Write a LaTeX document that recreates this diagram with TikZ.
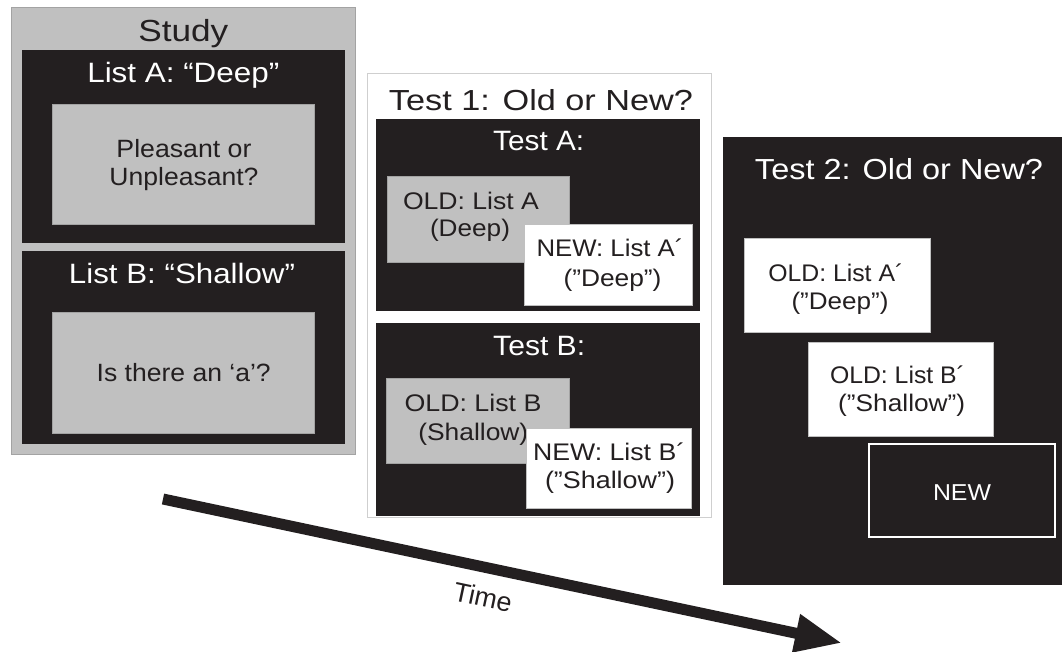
\documentclass[tikz,border=0pt]{standalone}
\usepackage{fontspec}
\usepackage{graphicx}
\setmainfont{Liberation Sans}
\usetikzlibrary{arrows.meta}

\definecolor{ink}{HTML}{231F20}
\definecolor{card}{HTML}{C0C0C0}
\definecolor{studyedge}{HTML}{A3A3A3}
\definecolor{paneledge}{HTML}{CFCFCF}

% stretch a line of text horizontally to a given width, keeping its height
\newcommand{\fitw}[2]{\resizebox{#1}{\height}{#2}}
\newcommand{\fs}[1]{\fontsize{#1}{#1}\selectfont}

\tikzset{
  box/.style={rectangle, inner sep=0pt, outer sep=0pt, line width=0.8pt},
  studypanel/.style={box, fill=card, draw=studyedge},
  testpanel/.style={box, fill=white, draw=paneledge},
  darkbox/.style={box, fill=ink, draw=ink},
  graybox/.style={box, fill=card, draw=card!85!black},
  whitebox/.style={box, fill=white, draw=card},
  outlinebox/.style={box, fill=ink, draw=white, line width=1.2pt},
  lbl/.style={inner sep=0pt, anchor=base},
  darklbl/.style={lbl, text=ink},
  lightlbl/.style={lbl, text=white},
}

\begin{document}
\begin{tikzpicture}[x=1pt, y=-1pt]
\useasboundingbox (0,0) rectangle (1062,651);

% ---------- Study ----------
\node[studypanel, minimum width=344pt, minimum height=447pt] (study) at (183,230.5) {};
\node[darklbl, font=\fs{30.5}] (studyT) at (183.3,41.5) {\fitw{90pt}{Study}};

\node[darkbox, minimum width=322pt, minimum height=192pt] (listA) at (183,146) {};
\node[lightlbl, font=\fs{28}] (listAT) at (183.3,82) {\fitw{192pt}{List A: “Deep”}};
\node[graybox, minimum width=262pt, minimum height=120pt] (taskA) at (183,164) {};
\node[darklbl, font=\fs{25}] (taskA1) at (184,157) {\fitw{135pt}{Pleasant or}};
\node[darklbl, font=\fs{25}] (taskA2) at (184,185) {\fitw{149pt}{Unpleasant?}};

\node[darkbox, minimum width=322pt, minimum height=192pt] (listB) at (183,347) {};
\node[lightlbl, font=\fs{28}] (listBT) at (182,283) {\fitw{226pt}{List B: “Shallow”}};
\node[graybox, minimum width=262pt, minimum height=121pt] (taskB) at (183,372.5) {};
\node[darklbl, font=\fs{25}] (taskB1) at (183.7,381.7) {\fitw{174pt}{Is there an ‘a’?}};

% ---------- Test 1 ----------
\node[testpanel, minimum width=344pt, minimum height=444pt] (test1) at (539,295) {};
\node[darklbl, font=\fs{29}] (test1T) at (541,110.7) {\fitw{304pt}{Test 1: Old or New?}};

\node[darkbox, minimum width=323pt, minimum height=191pt] (testA) at (537.5,214.5) {};
\node[lightlbl, font=\fs{28}] (testAT) at (538.7,150.7) {\fitw{91pt}{Test A:}};
\node[graybox, minimum width=182pt, minimum height=86pt] (oldA) at (478,219) {};
\node[darklbl, font=\fs{24}] (oldA1) at (471,209) {\fitw{136pt}{OLD: List A}};
\node[darklbl, font=\fs{24}] (oldA2) at (470,236.7) {\fitw{80pt}{(Deep)}};
\node[whitebox, minimum width=168pt, minimum height=81pt] (newA) at (608,264.5) {};
\node[darklbl, font=\fs{24}] (newA1) at (610,256.7) {\fitw{147pt}{NEW: List A´}};
\node[darklbl, font=\fs{24}] (newA2) at (612.5,286.7) {\fitw{98pt}{(”Deep”)}};

\node[darkbox, minimum width=323pt, minimum height=192pt] (testB) at (537.5,419) {};
\node[lightlbl, font=\fs{28}] (testBT) at (539.2,355) {\fitw{92pt}{Test B:}};
\node[graybox, minimum width=183pt, minimum height=85pt] (oldB) at (477.5,420.5) {};
\node[darklbl, font=\fs{24}] (oldB1) at (473,411.7) {\fitw{137pt}{OLD: List B}};
\node[darklbl, font=\fs{24}] (oldB2) at (473.3,440) {\fitw{110pt}{(Shallow)}};
\node[whitebox, minimum width=165pt, minimum height=80pt] (newB) at (608.5,468) {};
\node[darklbl, font=\fs{24}] (newB1) at (609.2,460) {\fitw{152pt}{NEW: List B´}};
\node[darklbl, font=\fs{24}] (newB2) at (610,488) {\fitw{130pt}{(”Shallow”)}};

% ---------- Test 2 ----------
\node[darkbox, minimum width=339pt, minimum height=447pt] (test2) at (892.5,360.5) {};
\node[lightlbl, font=\fs{29}] (test2T) at (899,179.3) {\fitw{288pt}{Test 2: Old or New?}};
\node[whitebox, minimum width=186pt, minimum height=94pt] (oldAp) at (837,285) {};
\node[darklbl, font=\fs{24}] (oldAp1) at (835.8,281.7) {\fitw{135pt}{OLD: List A´}};
\node[darklbl, font=\fs{24}] (oldAp2) at (840,309) {\fitw{97pt}{(”Deep”)}};
\node[whitebox, minimum width=185pt, minimum height=94pt] (oldBp) at (900.5,389) {};
\node[darklbl, font=\fs{24}] (oldBp1) at (897.5,383.3) {\fitw{135pt}{OLD: List B´}};
\node[darklbl, font=\fs{24}] (oldBp2) at (901.7,411.7) {\fitw{127pt}{(”Shallow”)}};
\node[outlinebox, minimum width=186pt, minimum height=93pt] (newT2) at (962,490.5) {};
\node[lightlbl, font=\fs{23}] (newT2T) at (962,500) {\fitw{58pt}{NEW}};

% ---------- time axis ----------
\coordinate (tstart) at (163,499);
\coordinate (tend) at (842,643);
\draw[ink, line width=11pt, -{Triangle[length=47pt,width=36pt]}] (tstart) -- (tend);
\node[text=ink, inner sep=0pt, rotate=-12, font=\fs{27}] (timeT) at (483,597) {Time};
\end{tikzpicture}
\end{document}
